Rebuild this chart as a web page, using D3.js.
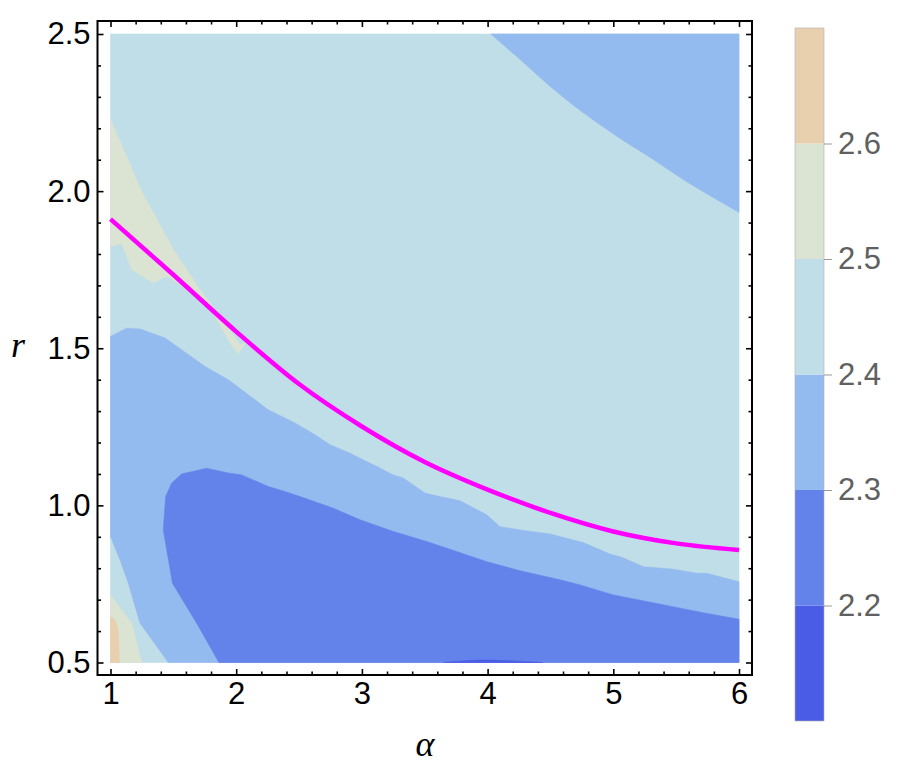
<!DOCTYPE html>
<html><head><meta charset="utf-8">
<script src="https://cdn.jsdelivr.net/npm/d3@7"></script>
<style>body{margin:0;background:#fff}</style>
</head><body>
<svg id="chart" width="897" height="780"></svg>
<script>
// ---------- data ----------
const levels = [2.1, 2.2, 2.3, 2.4, 2.5, 2.6, 2.7];
const bandColors = ["#4a5be5", "#6383ea", "#94bbef", "#c0dee8", "#dbe3d2", "#e8cfae"];
const xTicks = [1, 2, 3, 4, 5, 6];
const yTicks = [0.5, 1.0, 1.5, 2.0, 2.5];
const colorbarTicks = [2.2, 2.3, 2.4, 2.5, 2.6];
const xDomain = [1, 6];
const yDomain = [0.5, 2.5];

// contour level curves, points as [alpha, r]
const contour24Top = [[4.025,2.5],[4.23,2.429],[4.496,2.334],[4.759,2.25],[5.027,2.175],[5.294,2.107],[5.556,2.037],[5.823,1.973],[6,1.932]];
const contour25Wedge = [[1,2.228],[1.248,1.999],[1.50,1.814],[1.712,1.686],[1.897,1.591],[2.03,1.511],[2.078,1.518],[2.014,1.4825],[1.967,1.508],[1.752,1.654],[1.447,1.729],[1.34,1.708],[1.169,1.75],[1.089,1.833],[1,1.824]];
const contour24Lower = [[1,1.5376],[1.129,1.564],[1.235,1.561],[1.434,1.533],[1.566,1.495],[1.752,1.442],[1.937,1.40],[2.044,1.368],[2.255,1.304],[2.468,1.262],[2.627,1.2245],[2.746,1.193],[2.905,1.166],[3.118,1.124],[3.25,1.097],[3.329,1.087],[3.502,1.039],[3.621,1.028],[3.78,1.015],[3.993,0.97],[4.099,0.932],[4.258,0.922],[4.496,0.909],[4.759,0.882],[4.974,0.845],[5.067,0.835],[5.239,0.805],[5.477,0.797],[5.663,0.784],[5.743,0.784],[6,0.757]];
const contour24Corner = [[1,0.9006],[1.076,0.826],[1.142,0.752],[1.235,0.625],[1.46,0.5]];
const contour25Corner = [[1,0.715],[1.089,0.667],[1.169,0.625],[1.248,0.5]];
const contour26Corner = [[1,0.646],[1.036,0.635],[1.062,0.6035],[1.07,0.5]];
const contour23 = [[1.863,0.5],[1.686,0.625],[1.493,0.752],[1.42,0.922],[1.439,1.028],[1.487,1.071],[1.566,1.1],[1.765,1.118],[1.937,1.103],[2.044,1.097],[2.255,1.06],[2.388,1.044],[2.508,1.028],[2.772,0.991],[2.985,0.954],[3.25,0.917],[3.515,0.885],[3.754,0.853],[3.993,0.821],[4.258,0.792],[4.576,0.763],[4.735,0.747],[5.0,0.715],[5.266,0.694],[5.531,0.673],[5.77,0.654],[6,0.638]];
const contour22 = [[3.65,0.5],[3.8,0.505],[3.97,0.508],[4.2,0.505],[4.44,0.5]];

// magenta curve samples
const curveAlpha = [1, 1.5, 2, 2.5, 3, 3.5, 4, 4.5, 5, 5.5, 6];
const curveR = [1.911, 1.734, 1.553, 1.386, 1.251, 1.138, 1.05, 0.976, 0.917, 0.879, 0.858];

// ---------- layout ----------
const svg = d3.select("#chart");
const x = d3.scaleLinear().domain(xDomain).range([110.5, 739]);
const y = d3.scaleLinear().domain(yDomain).range([662.5, 34]);
const frame = {l: 97.5, t: 21, r: 752, b: 675};
const color = d3.scaleThreshold().domain(levels.slice(1, -1)).range(bandColors);

const [x0, x1] = xDomain, [y0, y1] = yDomain;
const regions = [
  {band: 2.4, pts: [[x0,y0],[x1,y0],[x1,y1],[x0,y1]]},
  {band: 2.3, pts: contour24Top, smooth: true, tail: [[x1,y1]]},
  {band: 2.5, pts: contour25Wedge},
  {band: 2.3, pts: contour24Lower.concat([[x1,y0]], contour24Corner.slice().reverse())},
  {band: 2.5, pts: contour25Corner.concat([[x0,y0]])},
  {band: 2.6, pts: contour26Corner.concat([[x0,y0]])},
  {band: 2.2, pts: contour23.concat([[x1,y0]])},
  {band: 2.1, pts: contour22, smooth: true}
];

const line = d3.line().x(d => x(d[0])).y(d => y(d[1]));
const smoothLine = d3.line().curve(d3.curveCatmullRom).x(d => x(d[0])).y(d => y(d[1]));
function regionPath(d) {
  let p = d.smooth ? smoothLine(d.pts) : line(d.pts);
  if (d.tail) p += d.tail.map(t => `L${x(t[0])},${y(t[1])}`).join("");
  return p + "Z";
}
svg.append("g").selectAll("path").data(regions).join("path")
  .attr("d", regionPath)
  .attr("fill", d => color(d.band + 0.05))
  .attr("stroke", d => color(d.band + 0.05))
  .attr("stroke-width", 0.6);

// magenta curve
const curvePts = curveAlpha.map((a, i) => [a, curveR[i]]);
svg.append("path")
  .attr("d", d3.line().curve(d3.curveMonotoneX).x(d => x(d[0])).y(d => y(d[1]))(curvePts))
  .attr("fill", "none").attr("stroke", "#ff00ff").attr("stroke-width", 4.5);

// ---------- frame & axes ----------
const fontMain = "'Liberation Sans', Arial, Helvetica, sans-serif";
const xMinor = d3.range(10, 61, 2).map(v => v / 10).filter(v => !xTicks.includes(v));
const yMinor = d3.range(5, 26, 1).map(v => v / 10).filter(v => !yTicks.some(t => Math.abs(t - v) < 1e-9));

function styleAxis(g) {
  g.select(".domain").remove();
  g.selectAll("line").attr("stroke", "#000").attr("stroke-width", 1.6);
  g.selectAll("text").attr("font-family", fontMain).attr("font-size", 31).attr("fill", "#000");
}
function addAxis(axisFn, scale, transform, major, minor, labels, fmt) {
  svg.append("g").attr("transform", transform)
    .call(axisFn(scale).tickValues(minor).tickSize(-3.5).tickFormat("")).call(styleAxis);
  svg.append("g").attr("transform", transform)
    .call(axisFn(scale).tickValues(major).tickSize(-6).tickPadding(labels ? 7 : 0)
      .tickFormat(labels ? fmt : "")).call(styleAxis);
}
addAxis(d3.axisBottom, x, `translate(0,${frame.b})`, xTicks, xMinor, true, d3.format("d"));
addAxis(d3.axisTop, x, `translate(0,${frame.t})`, xTicks, xMinor, false);
addAxis(d3.axisLeft, y, `translate(${frame.l},0)`, yTicks, yMinor, true, d3.format(".1f"));
addAxis(d3.axisRight, y, `translate(${frame.r},0)`, yTicks, yMinor, false);

svg.append("rect")
  .attr("x", frame.l).attr("y", frame.t)
  .attr("width", frame.r - frame.l).attr("height", frame.b - frame.t)
  .attr("fill", "none").attr("stroke", "#000").attr("stroke-width", 2);

// axis titles
svg.append("text").attr("x", 18).attr("y", 357).attr("text-anchor", "middle")
  .attr("font-family", "'Liberation Serif', 'Times New Roman', serif").attr("font-style", "italic")
  .attr("font-size", 36).text("r");
svg.append("text").attr("x", 425).attr("y", 756).attr("text-anchor", "middle")
  .attr("font-family", "'Liberation Serif', 'Times New Roman', serif").attr("font-style", "italic")
  .attr("font-size", 36).text("α");

// ---------- colorbar ----------
const cb = d3.scaleLinear().domain([levels[0], levels[levels.length - 1]]).range([721, 28]);
const cbX = 795, cbW = 29;
const bands = levels.slice(0, -1).map((lv, i) => ({lo: lv, hi: levels[i + 1]}));
svg.append("g").selectAll("rect").data(bands).join("rect")
  .attr("x", cbX).attr("width", cbW)
  .attr("y", d => cb(d.hi)).attr("height", d => cb(d.lo) - cb(d.hi))
  .attr("fill", d => color(d.lo + 0.05));
svg.append("rect").attr("x", cbX).attr("y", cb.range()[1]).attr("width", cbW)
  .attr("height", cb.range()[0] - cb.range()[1])
  .attr("fill", "none").attr("stroke", "#b0b0b0").attr("stroke-width", 0.6);
const cbAxis = svg.append("g").attr("transform", `translate(${cbX + cbW},0)`)
  .call(d3.axisRight(cb).tickValues(colorbarTicks).tickSize(8).tickPadding(6).tickFormat(d3.format(".1f")));
cbAxis.select(".domain").remove();
cbAxis.selectAll("line").attr("stroke", "#999").attr("stroke-width", 1);
cbAxis.selectAll("text").attr("font-family", fontMain).attr("font-size", 31).attr("fill", "#606060");
</script>
</body></html>
